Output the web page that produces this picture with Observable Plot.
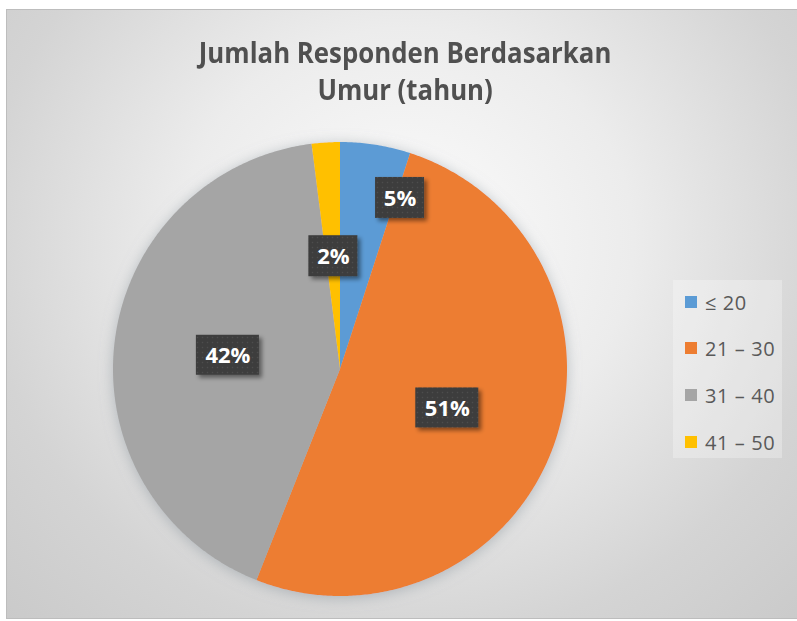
<!DOCTYPE html>
<html><head><meta charset="utf-8">
<script src="https://cdn.jsdelivr.net/npm/d3@7"></script>
<script src="https://cdn.jsdelivr.net/npm/@observablehq/plot@0.6"></script>
<style>
body{margin:0;background:#fff;width:797px;height:621px;overflow:hidden;position:relative;font-family:"Open Sans",sans-serif}
#frame{position:absolute;left:6px;top:9px;width:800px;height:608px;border:1px solid #bdbdbd;
  background:radial-gradient(ellipse farthest-corner at 50% 38%, #fcfcfc 0%, #ececec 40%, #d4d4d4 75%, #cacaca 100%);}
#title{position:absolute;left:6px;width:797px;top:33px;text-align:center;font-family:"Open Sans",sans-serif;
  font-weight:700;font-size:29px;line-height:37px;color:#505050;transform:scaleX(0.89);transform-origin:404px 0;}
#plot{position:absolute;left:0;top:0}
#legendbox{position:absolute;left:673px;top:280px;width:109px;height:178px;background:rgba(255,255,255,0.28)}
.item{position:absolute;left:685px;height:24px;display:flex;align-items:center;font-size:20px;color:#595959;white-space:pre;letter-spacing:0.6px}
.sw{width:12px;height:12px;margin-right:8px;flex:none}
</style></head><body>
<div id="frame"></div>
<div id="title"></div>
<div id="plot"></div>
<div id="legendbox"></div>
<div id="legend"></div>
<script>
// ---- data ----
const titleLines = ["Jumlah Responden Berdasarkan", "Umur (tahun)"];
const ageGroups = ["≤ 20", "21 – 30", "31 – 40", "41 – 50"];
const percentages = [5, 51, 42, 2];
const sliceColors = ["#5B9BD5", "#ED7D31", "#A5A5A5", "#FFC000"];

// ---- layout ----
const cx = 340, cy = 369, R = 227;
const legendRowCenters = [302, 348, 395, 442];
// label placement: default at mid-angle, half radius; small first slice pushed outward past its end edge
const labelPlacement = {"≤ 20": {radius: 0.8, angle: "end"}};

document.getElementById("title").innerHTML = titleLines.join("<br>");

const rows = ageGroups.map((g, i) => ({age: g, value: percentages[i]}));
const slices = d3.pie().sort(null).value(d => d.value)(rows);

// arc outline points of each slice (area closes back to the centre)
const arcPoints = [];
for (const s of slices) {
  const age = s.data.age;
  const n = Math.max(2, Math.ceil((s.endAngle - s.startAngle) / (Math.PI / 360)));
  for (let k = 0; k <= n; k++) {
    const a = s.startAngle + (s.endAngle - s.startAngle) * k / n;
    arcPoints.push({age, x: Math.sin(a), y: Math.cos(a)});
  }
}

const labels = slices.map(s => {
  const p = labelPlacement[s.data.age] || {radius: 0.5, angle: "mid"};
  const a = p.angle === "end" ? s.endAngle + 0.02 : (s.startAngle + s.endAngle) / 2;
  return {age: s.data.age, text: `${s.data.value}%`, x: p.radius * Math.sin(a), y: p.radius * Math.cos(a)};
});

const chart = Plot.plot({
  width: 797, height: 621, margin: 0,
  x: {domain: [-1, 1], range: [cx - R, cx + R], axis: null},
  y: {domain: [-1, 1], range: [cy + R, cy - R], axis: null},
  color: {domain: ageGroups, range: sliceColors},
  style: {background: "transparent", overflow: "visible"},
  marks: [
    Plot.area(arcPoints, {x1: "x", y1: "y", x2: 0, y2: 0, z: "age", fill: "age"}),
    Plot.rect(labels.filter(d => d.text.length >= 3), {x1: "x", x2: "x", y1: "y", y2: "y", fill: "url(#dots)",
      insetLeft: -31.5, insetRight: -31.5, insetTop: -20, insetBottom: -20}),
    Plot.rect(labels.filter(d => d.text.length < 3), {x1: "x", x2: "x", y1: "y", y2: "y", fill: "url(#dots)",
      insetLeft: -24.5, insetRight: -24.5, insetTop: -20.5, insetBottom: -20.5}),
    Plot.text(labels, {x: "x", y: "y", text: "text", fill: "white", fontSize: 22, fontWeight: 700,
      fontFamily: "Open Sans", dy: 1})
  ]
});

const svg = d3.select(chart);
const defs = svg.insert("defs", ":first-child");
const pat = defs.append("pattern").attr("id", "dots").attr("width", 5).attr("height", 5).attr("patternUnits", "userSpaceOnUse");
pat.append("rect").attr("width", 5).attr("height", 5).attr("fill", "#3c3c3c");
pat.append("circle").attr("cx", 2.5).attr("cy", 2.5).attr("r", 0.8).attr("fill", "#4e4e4e");
const bs = defs.append("filter").attr("id", "boxShadow").attr("x", "-30%").attr("y", "-30%").attr("width", "160%").attr("height", "160%");
bs.append("feDropShadow").attr("dx", 3).attr("dy", 3).attr("stdDeviation", 2).attr("flood-color", "#000").attr("flood-opacity", 0.45);
const ps = defs.append("filter").attr("id", "pieShadow").attr("x", "-20%").attr("y", "-20%").attr("width", "140%").attr("height", "140%");
ps.append("feDropShadow").attr("dx", 0).attr("dy", 2).attr("stdDeviation", 7).attr("flood-color", "#8a949c").attr("flood-opacity", 0.55);
svg.selectAll('g[aria-label="area"]').attr("filter", "url(#pieShadow)");
svg.selectAll('g[aria-label="rect"] rect').attr("filter", "url(#boxShadow)");

document.getElementById("plot").appendChild(chart);

const legend = document.getElementById("legend");
ageGroups.forEach((g, i) => {
  const item = document.createElement("div");
  item.className = "item";
  item.style.top = (legendRowCenters[i] - 12) + "px";
  const sw = document.createElement("span");
  sw.className = "sw";
  sw.style.background = sliceColors[i];
  item.appendChild(sw);
  item.appendChild(document.createTextNode(g));
  legend.appendChild(item);
});
</script>
</body></html>
